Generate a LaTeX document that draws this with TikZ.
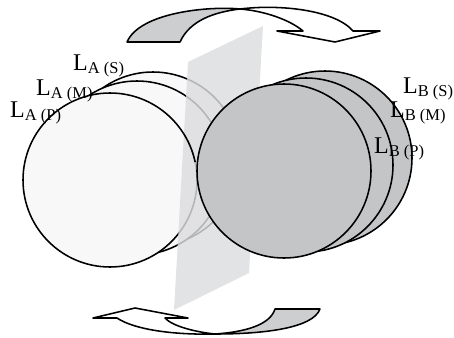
\documentclass[tikz,border=0pt]{standalone}
\usepackage{fontspec}
\setmainfont{Liberation Serif}
\definecolor{afill}{HTML}{F8F8F8}
\definecolor{bfill}{HTML}{C4C5C7}
\definecolor{planec}{HTML}{DCDDDF}
\definecolor{arrgray}{HTML}{CDCED0}
\newcommand{\lbl}[2]{L\raisebox{-3pt}{\fontsize{16.5}{16.5}\selectfont #1 (#2)}}
\begin{document}
\begin{tikzpicture}[x=1pt,y=-1pt,
  disk/.style={draw=black, line width=1.55pt},
  lab/.style={anchor=base west, inner sep=0pt, font=\fontsize{24}{24}\selectfont},
  rib/.style={draw=black, line width=1.55pt, line join=round}]
\useasboundingbox (0,0) rectangle (454,337);
% A circles (back to front)
\draw[disk, fill=afill] (153,159) circle[radius=87pt];
\draw[disk, fill=afill] (137,168) circle[radius=87pt];
\draw[disk, fill=afill] (110,180) circle[radius=87pt];
% translucent plane
\fill[planec, opacity=0.82] (188,62) -- (263,26) -- (249,273) -- (174,310) -- cycle;
% front part of A(P) in front of the plane
\begin{scope}
  \clip (188,62) -- (263,26) -- (263,162) -- (182.4,162) -- cycle;
  \draw[disk] (110,180) circle[radius=87pt];
\end{scope}
% B circles (back to front)
\draw[disk, fill=bfill] (325,158) circle[radius=87pt];
\draw[disk, fill=bfill] (306,165) circle[radius=87pt];
\draw[disk, fill=bfill] (284,171) circle[radius=87pt];
% top arrow
\draw[rib, fill=arrgray] (127,42) .. controls (140,12) and (210,6) .. (240,9)
   .. controls (215,12) and (190,20) .. (180,42) -- cycle;
\draw[rib, fill=white] (240,9) .. controls (280,4) and (335,10) .. (353,31)
   -- (380,31) -- (335,42) -- (277,31) -- (303,31)
   .. controls (290,20) and (265,11) .. (240,9) -- cycle;
% bottom arrow
\draw[rib, fill=white] (215,334) .. controls (175,335) and (135,330) .. (117,318)
   -- (93,318) -- (135,308) -- (188,318) -- (165,318)
   .. controls (172,326) and (195,332) .. (215,334) -- cycle;
\draw[rib, fill=arrgray] (215,334) .. controls (245,332) and (270,325) .. (275,309)
   -- (320,309) .. controls (313,328) and (265,334) .. (215,334) -- cycle;
% labels
\node[lab] (las) at (73,70) {\lbl{A}{S}};
\node[lab] (lam) at (36,95) {\lbl{A}{M}};
\node[lab] (lap) at (10,117) {\lbl{A}{P}};
\node[lab] (lbs) at (403,93) {\lbl{B}{S}};
\node[lab] (lbm) at (390,117) {\lbl{B}{M}};
\node[lab] (lbp) at (374,153) {\lbl{B}{P}};
\end{tikzpicture}
\end{document}
